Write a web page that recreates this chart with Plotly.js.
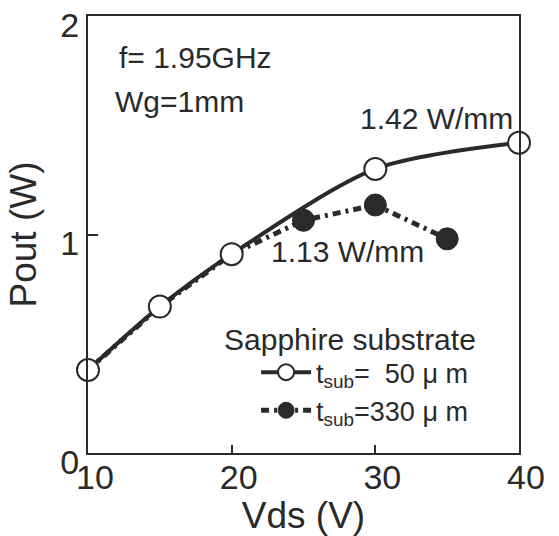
<!DOCTYPE html>
<html>
<head>
<meta charset="utf-8">
<script src="https://cdn.plot.ly/plotly-3.0.1.min.js"></script>
<style>html,body{margin:0;padding:0;background:#fff;}#chart{width:559px;height:536px;}</style>
</head>
<body>
<div id="chart"></div>
<script>
// Data
const vdsThin = [10, 15, 20, 30, 40];
const poutThin = [0.38, 0.67, 0.91, 1.30, 1.42];
const vdsThick = [10, 15, 20, 25, 30, 35];
const poutThick = [0.38, 0.67, 0.91, 1.065, 1.135, 0.98];
const nameThin = 't<sub>sub</sub>=\u00a0\u00a050\u00a0\u03bc\u00a0m';
const nameThick = 't<sub>sub</sub>=330\u00a0\u03bc\u00a0m';
const xTicks = [10, 20, 30, 40];
const yTicks = [0, 1, 2];

const FONT = 'Liberation Sans, Arial, sans-serif';
const INK = '#2a2a2a';

const traces = [
  {
    x: vdsThick, y: poutThick, name: nameThick, mode: 'lines+markers',
    line: {color: INK, width: 5, dash: '8px,5px,3px,5px'},
    marker: {symbol: 'circle', size: 22, color: INK, line: {color: INK, width: 1}},
    cliponaxis: false
  },
  {
    x: vdsThin, y: poutThin, name: nameThin, mode: 'lines+markers',
    line: {color: INK, width: 4, shape: 'spline', smoothing: 0.8},
    marker: {symbol: 'circle', size: 22, color: '#ffffff', line: {color: INK, width: 2}},
    cliponaxis: false
  }
];

const annFont = {family: FONT, size: 30, color: INK};
const layout = {
  width: 559, height: 536,
  margin: {l: 88, r: 40, t: 16, b: 83},
  paper_bgcolor: '#ffffff', plot_bgcolor: '#ffffff',
  font: {family: FONT, color: INK},
  showlegend: true,
  legend: {
    x: 0.39, y: 0.24, xanchor: 'left', yanchor: 'top',
    bgcolor: 'rgba(0,0,0,0)', borderwidth: 0,
    font: {family: FONT, size: 27, color: INK},
    traceorder: 'reversed', itemwidth: 50, tracegroupgap: 0
  },
  xaxis: {
    range: [10, 40], tickvals: xTicks, ticktext: xTicks.map(String),
    ticks: 'inside', ticklen: 8, tickwidth: 2, tickcolor: INK,
    showline: true, linecolor: INK, linewidth: 2, mirror: true,
    showgrid: false, zeroline: false,
    tickfont: {family: FONT, size: 34, color: INK},
    ticklabelshift: 7, ticklabelstandoff: -7,
    title: {text: 'Vds (V)', font: {family: FONT, size: 37, color: INK}, standoff: 10}
  },
  yaxis: {
    range: [0, 2], tickvals: yTicks, ticktext: yTicks.map(String),
    ticks: 'inside', ticklen: 10, tickwidth: 2, tickcolor: INK,
    showline: true, linecolor: INK, linewidth: 2, mirror: true,
    showgrid: false, zeroline: false,
    tickfont: {family: FONT, size: 34, color: INK},
    ticklabelshift: 9,
    title: {text: 'Pout (W)', font: {family: FONT, size: 37, color: INK}, standoff: 12}
  },
  annotations: [
    {x: 12.0, y: 1.81, xref: 'x', yref: 'y', text: 'f= 1.95GHz', showarrow: false, xanchor: 'left', yanchor: 'middle', font: annFont},
    {x: 11.75, y: 1.61, xref: 'x', yref: 'y', text: 'Wg=1mm', showarrow: false, xanchor: 'left', yanchor: 'middle', font: annFont},
    {x: 39.7, y: 1.53, xref: 'x', yref: 'y', text: '1.42 W/mm', showarrow: false, xanchor: 'right', yanchor: 'middle', font: annFont},
    {x: 22.6, y: 0.92, xref: 'x', yref: 'y', text: '1.13 W/mm', showarrow: false, xanchor: 'left', yanchor: 'middle', font: annFont},
    {x: 19.3, y: 0.52, xref: 'x', yref: 'y', text: 'Sapphire substrate', showarrow: false, xanchor: 'left', yanchor: 'middle', font: annFont}
  ]
};

Plotly.newPlot('chart', traces, layout, {displayModeBar: false, staticPlot: true});
</script>
</body>
</html>
